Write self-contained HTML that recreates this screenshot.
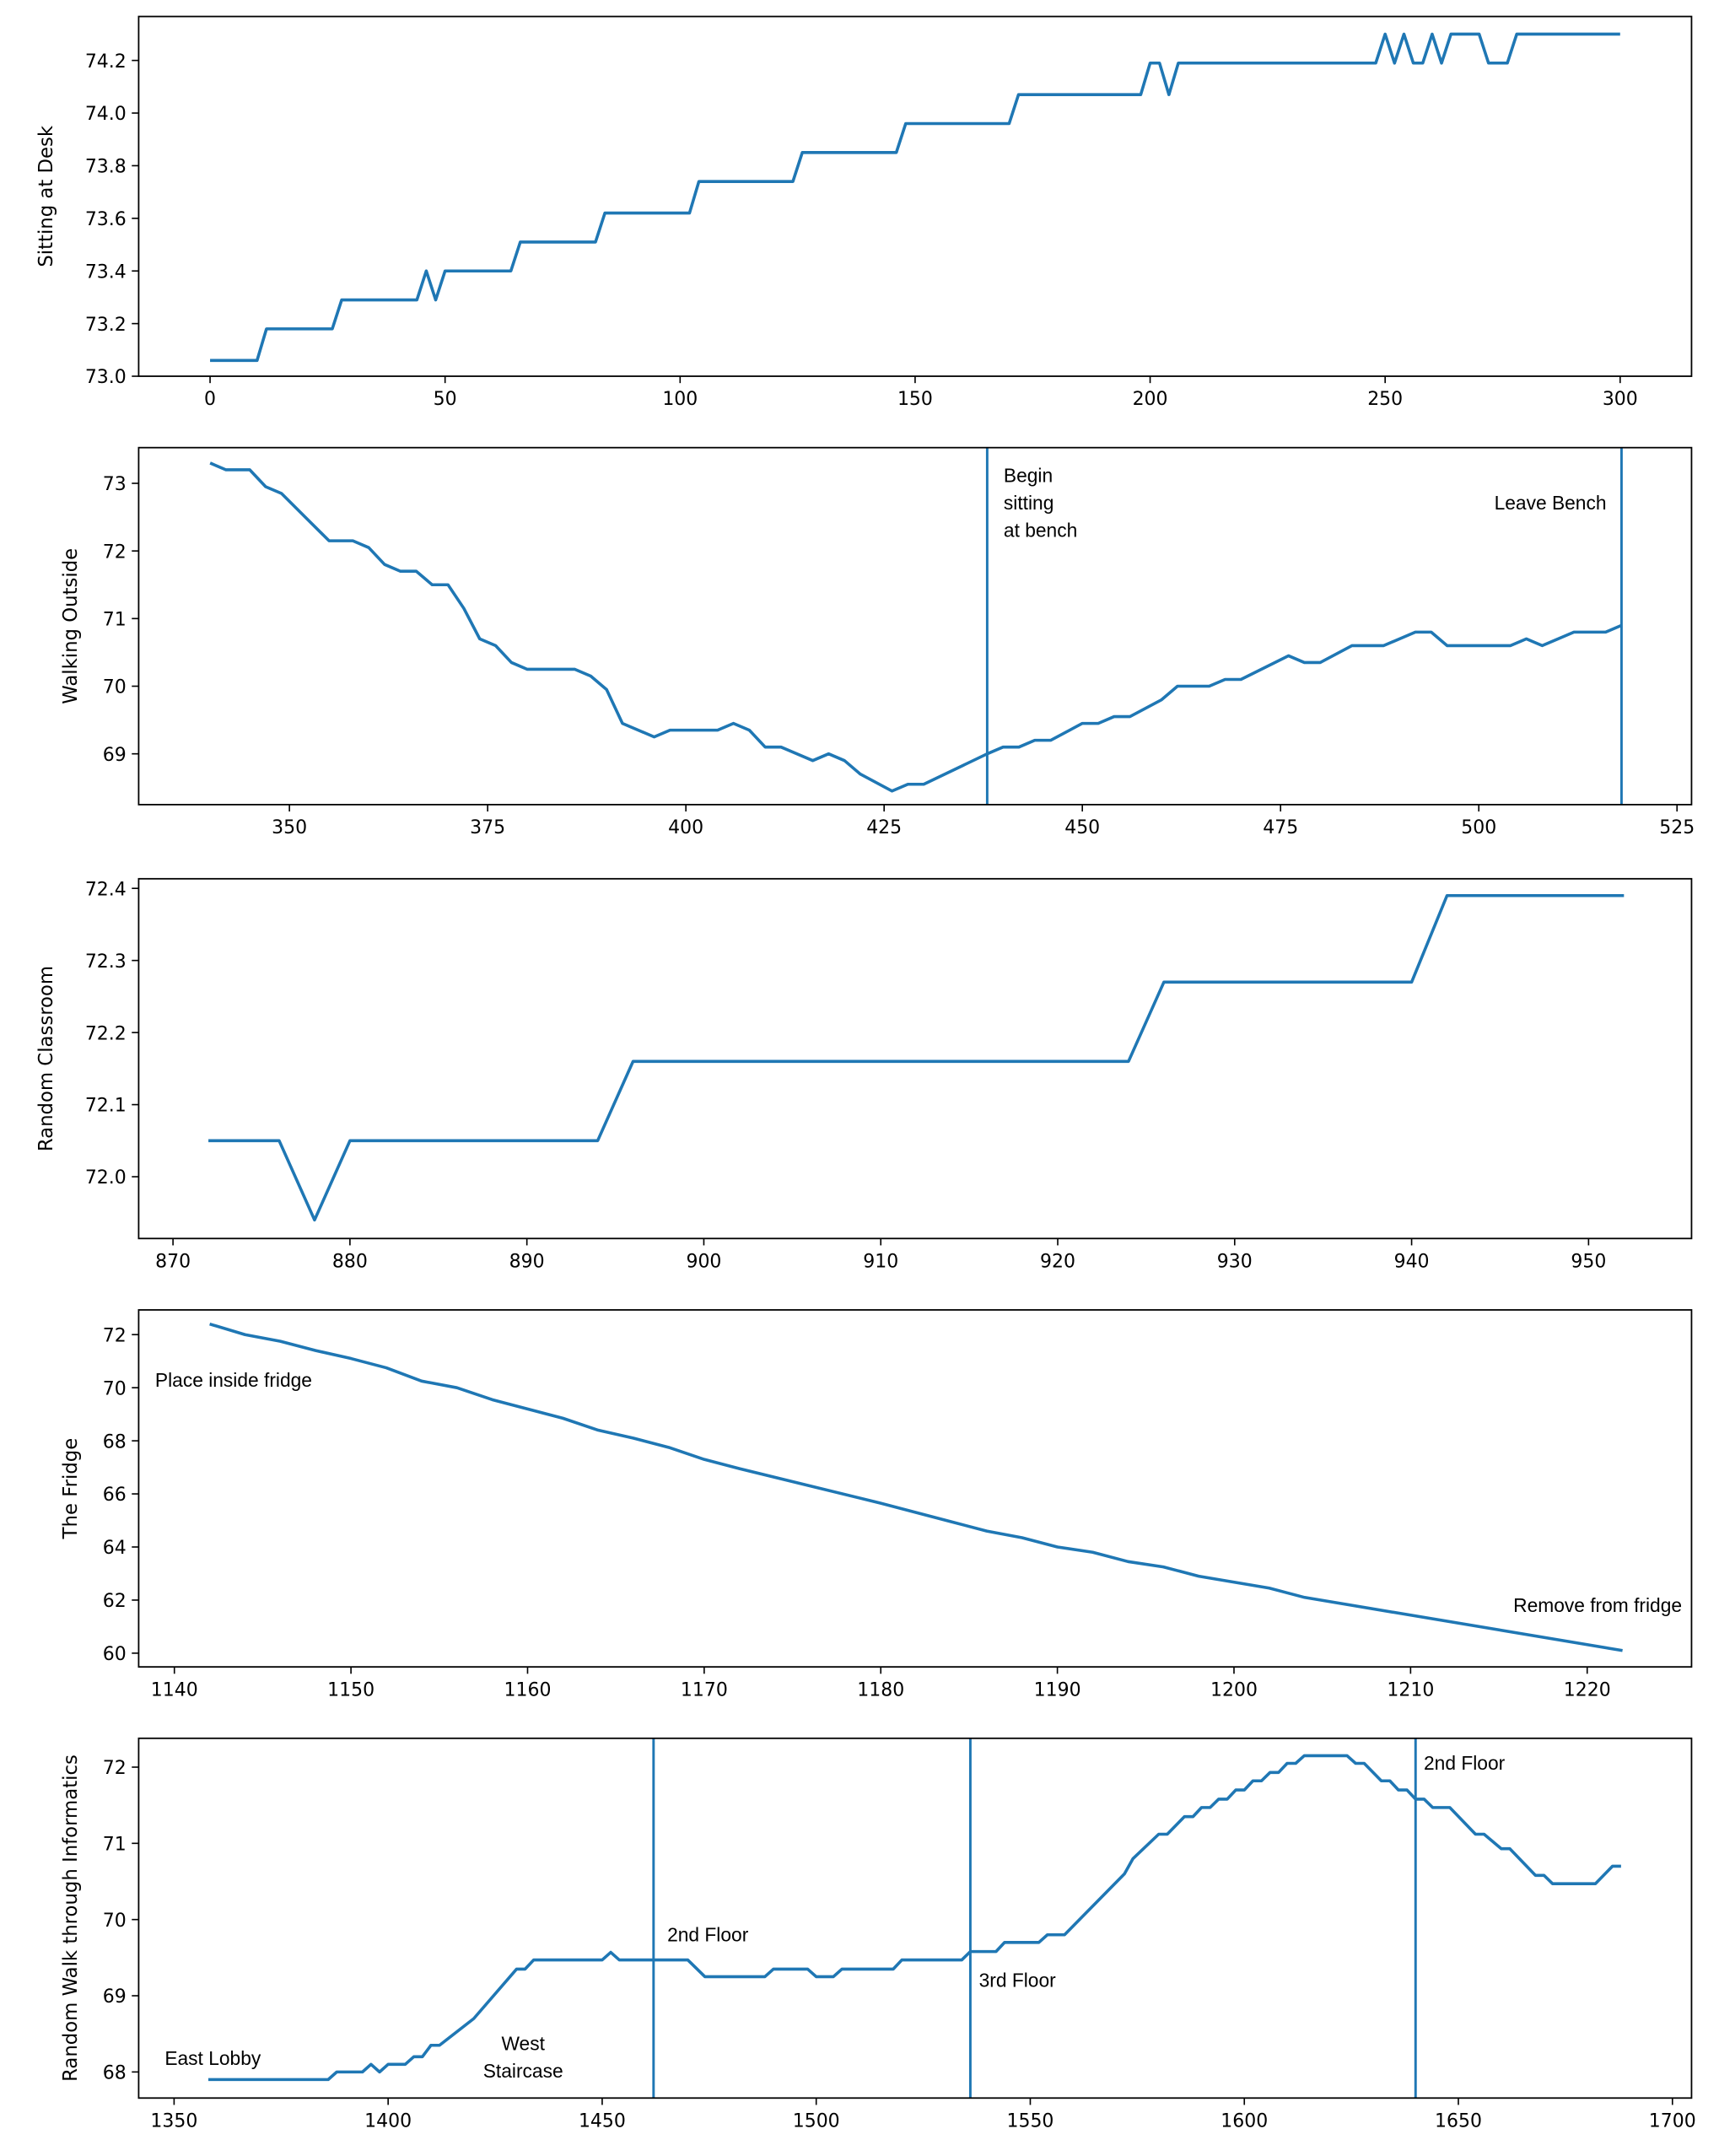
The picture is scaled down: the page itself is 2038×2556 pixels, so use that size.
<!DOCTYPE html>
<html><head><meta charset="utf-8"><style>
html,body{margin:0;padding:0;background:#fff}
svg{display:block}
text{font-family:"DejaVu Sans","Liberation Sans",sans-serif;fill:#000}
.ann{font-family:"Liberation Sans",sans-serif}
</style></head><body>
<svg id="chart" width="2038" height="2556" viewBox="0 0 1252 1570.2" xmlns="http://www.w3.org/2000/svg"></svg>
<script>
const p1X=[0,10,12,26,28,44,46,48,50,64,66,82,84,102,104,124,126,146,148,170,172,198,200,202,204,206,248,250,252,254,256,258,260,262,264,270,272,276,278,300];
const p1Y=[73.06,73.06,73.18,73.18,73.29,73.29,73.40,73.29,73.40,73.40,73.51,73.51,73.62,73.62,73.74,73.74,73.85,73.85,73.96,73.96,74.07,74.07,74.19,74.19,74.07,74.19,74.19,74.30,74.19,74.30,74.19,74.19,74.30,74.19,74.30,74.30,74.19,74.19,74.30,74.30];
const p2X=[340,342,345,347,349,352,355,358,360,362,364,366,368,370,372,374,376,378,380,386,388,390,392,396,398,404,406,408,410,412,416,418,420,422,426,428,430,438,440,442,444,446,450,452,454,456,460,462,466,468,470,476,478,480,484,488,492,494,496,504,506,508,512,516,518];
const p2Y=[73.3,73.2,73.2,72.95,72.85,72.5,72.15,72.15,72.05,71.8,71.7,71.7,71.5,71.5,71.15,70.7,70.6,70.35,70.25,70.25,70.15,69.95,69.45,69.25,69.35,69.35,69.45,69.35,69.1,69.1,68.9,69.0,68.9,68.7,68.45,68.55,68.55,69.0,69.1,69.1,69.2,69.2,69.45,69.45,69.55,69.55,69.8,70.0,70.0,70.1,70.1,70.45,70.35,70.35,70.6,70.6,70.8,70.8,70.6,70.6,70.7,70.6,70.8,70.8,70.9];
const p3X=[872,876,878,880,894,896,924,926,940,942,952];
const p3Y=[72.05,72.05,71.94,72.05,72.05,72.16,72.16,72.27,72.27,72.39,72.39];
const p4X=[1142,1144,1146,1148,1150,1152,1154,1156,1158,1160,1162,1164,1166,1168,1170,1172,1176,1180,1184,1186,1188,1190,1192,1194,1196,1198,1202,1204,1222];
const p4Y=[72.4,72.0,71.75,71.4,71.1,70.75,70.25,70.0,69.55,69.2,68.85,68.4,68.1,67.75,67.3,66.95,66.3,65.65,64.95,64.6,64.35,64.0,63.8,63.45,63.25,62.9,62.45,62.1,60.1];
const p5X=[1358,1386,1388,1394,1396,1398,1400,1404,1406,1408,1410,1412,1420,1430,1432,1434,1450,1452,1454,1470,1474,1488,1490,1498,1500,1504,1506,1518,1520,1534,1536,1542,1544,1552,1554,1558,1572,1574,1580,1582,1586,1588,1590,1592,1594,1596,1598,1600,1602,1604,1606,1608,1610,1612,1614,1624,1626,1628,1632,1634,1636,1638,1640,1642,1644,1648,1654,1656,1660,1662,1668,1670,1672,1682,1686,1688];
const p5Y=[67.9,67.9,68.0,68.0,68.1,68.0,68.1,68.1,68.2,68.2,68.35,68.35,68.7,69.35,69.35,69.47,69.47,69.57,69.47,69.47,69.25,69.25,69.35,69.35,69.25,69.25,69.35,69.35,69.47,69.47,69.58,69.58,69.7,69.7,69.8,69.8,70.6,70.8,71.12,71.12,71.35,71.35,71.47,71.47,71.58,71.58,71.7,71.7,71.82,71.82,71.93,71.93,72.05,72.05,72.15,72.15,72.05,72.05,71.82,71.82,71.7,71.7,71.58,71.58,71.47,71.47,71.12,71.12,70.93,70.93,70.58,70.58,70.47,70.47,70.7,70.7];
const p1XT=[0,50,100,150,200,250,300], p1YT=["73.0","73.2","73.4","73.6","73.8","74.0","74.2"];
const p2XT=[350,375,400,425,450,475,500,525], p2YT=["69","70","71","72","73"];
const p3XT=[870,880,890,900,910,920,930,940,950], p3YT=["72.0","72.1","72.2","72.3","72.4"];
const p4XT=[1140,1150,1160,1170,1180,1190,1200,1210,1220], p4YT=["60","62","64","66","68","70","72"];
const p5XT=[1350,1400,1450,1500,1550,1600,1650,1700], p5YT=["68","69","70","71","72"];
const p2V=[438,518], p5V=[1462,1536,1640];

const NS="http://www.w3.org/2000/svg", svg=document.getElementById('chart');
function el(t,a,p){const e=document.createElementNS(NS,t);for(const k in a)e.setAttribute(k,a[k]);(p||svg).appendChild(e);return e;}
function panel(cfg){
  const g=el('g',{});
  
  
  const sx=v=>cfg.x0p+(v-cfg.x0)*(cfg.x1p-cfg.x0p)/(cfg.x1-cfg.x0);
  const sy=v=>cfg.y0p+(v-cfg.y0)*(cfg.y1p-cfg.y0p)/(cfg.y1-cfg.y0);
  cfg.xt.forEach(t=>{const x=sx(+t);
    const tk=el('line',{x1:x,x2:x,y1:cfg.bottom,y2:cfg.bottom+5,stroke:'#000','stroke-width':1},g);
    
    const tx=el('text',{x:x,y:cfg.bottom+21,'text-anchor':'middle','font-size':13.5},g);tx.textContent=t;
    });
  cfg.yt.forEach(t=>{const y=sy(+t);
    const tk=el('line',{x1:101,x2:96,y1:y,y2:y,stroke:'#000','stroke-width':1},g);
    
    const tx=el('text',{x:92,y:y+5,'text-anchor':'end','font-size':13.5},g);tx.textContent=t;
    });
  (cfg.v||[]).forEach(v=>{const x=sx(v);
    const l=el('line',{x1:x,x2:x,y1:cfg.top,y2:cfg.bottom,stroke:'#1f77b4','stroke-width':1.8},g);
    });
  const pts=cfg.X.map((x,i)=>sx(x).toFixed(2)+','+sy(cfg.Y[i]).toFixed(2)).join(' ');
  const pl=el('polyline',{points:pts,fill:'none',stroke:'#1f77b4','stroke-width':2.2,'stroke-linejoin':'round'},g);
  
  const fr=el('rect',{x:101,y:cfg.top,width:1131,height:cfg.bottom-cfg.top,fill:'none',stroke:'#000','stroke-width':1.1},g);
  
  const cy=(cfg.top+cfg.bottom)/2;
  const yl=el('text',{x:cfg.lx,y:cy,'text-anchor':'middle','font-size':14,transform:`rotate(-90 ${cfg.lx} ${cy})`},g);
  yl.textContent=cfg.label;
  (cfg.ann||[]).forEach(a=>{a.lines.forEach((s,i)=>{
    const t=el('text',{class:'ann',x:a.x,y:a.y+i*20,'text-anchor':a.anchor||'start','font-size':14},g);
    t.textContent=s;});});
}
panel({name:'sitting-at-desk-panel',X:p1X,Y:p1Y,xt:p1XT,yt:p1YT,top:12,bottom:274,x0:0,x1:300,x0p:153,x1p:1180,y0:73.0,y1:74.2,y0p:274,y1p:44,lx:38,label:'Sitting at Desk'});
panel({name:'walking-outside-panel',X:p2X,Y:p2Y,xt:p2XT,yt:p2YT,v:p2V,top:326,bottom:586,x0:438,x1:518,x0p:719,x1p:1181,y0:69,y1:73,y0p:549,y1p:352,lx:56,label:'Walking Outside',
 ann:[{x:731,y:351,lines:['Begin','sitting','at bench']},{x:1170,y:371,anchor:'end',lines:['Leave Bench']}]});
panel({name:'random-classroom-panel',X:p3X,Y:p3Y,xt:p3XT,yt:p3YT,top:640,bottom:902,x0:870,x1:950,x0p:126,x1p:1157,y0:72.0,y1:72.4,y0p:857,y1p:647,lx:38,label:'Random Classroom'});
panel({name:'the-fridge-panel',X:p4X,Y:p4Y,xt:p4XT,yt:p4YT,top:954,bottom:1214,x0:1140,x1:1220,x0p:127,x1p:1156,y0:60,y1:72,y0p:1204,y1p:972,lx:56,label:'The Fridge',
 ann:[{x:113,y:1010,lines:['Place inside fridge']},{x:1225,y:1174,anchor:'end',lines:['Remove from fridge']}]});
panel({name:'informatics-walk-panel',X:p5X,Y:p5Y,xt:p5XT,yt:p5YT,v:p5V,top:1266,bottom:1528,x0:1462,x1:1640,x0p:476,x1p:1031,y0:68,y1:72,y0p:1509,y1p:1287,lx:56,label:'Random Walk through Informatics',
 ann:[{x:120,y:1504,lines:['East Lobby']},{x:381,y:1493,anchor:'middle',lines:['West','Staircase']},{x:486,y:1414,lines:['2nd Floor']},{x:713,y:1447,lines:['3rd Floor']},{x:1037,y:1289,lines:['2nd Floor']}]});
</script>
</body></html>
